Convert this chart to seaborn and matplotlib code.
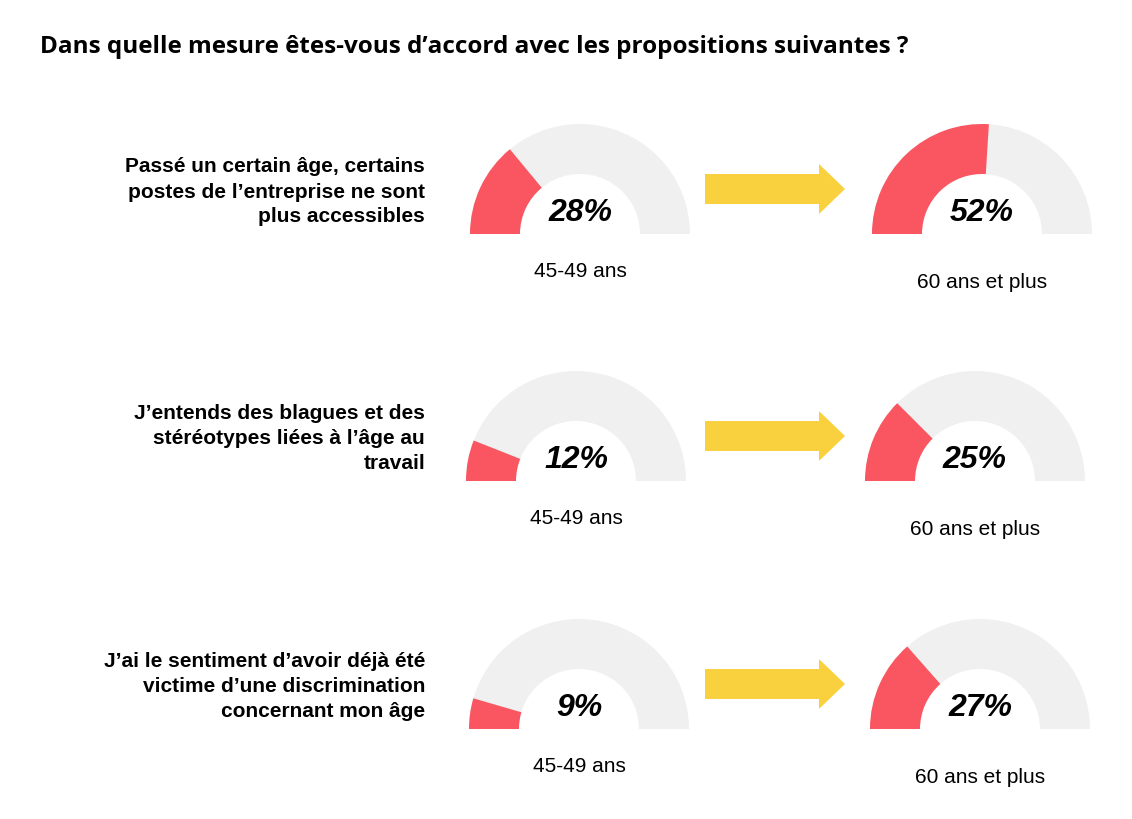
import matplotlib
matplotlib.use("Agg")
import matplotlib.pyplot as plt
from matplotlib.patches import Wedge, FancyArrow
import seaborn as sns

sns.set_theme(style="white")
plt.rcParams['font.family'] = ['Open Sans', 'DejaVu Sans']
plt.rcParams['text.color'] = 'black'

title = "Dans quelle mesure êtes-vous d’accord avec les propositions suivantes ?"
questions = [
    "Passé un certain âge, certains\npostes de l’entreprise ne sont\nplus accessibles",
    "J’entends des blagues et des\nstéréotypes liées à l’âge au\ntravail",
    "J’ai le sentiment d’avoir déjà été\nvictime d’une discrimination\nconcernant mon âge",
]
left_vals = [28, 12, 9]
right_vals = [52, 25, 27]
left_label = "45-49 ans"
right_label = "60 ans et plus"

RED = "#FA5661"
GREY = "#F0F0F0"
YEL = "#F9D13E"

fig = plt.figure(figsize=(11.32, 8.2), dpi=100)
ax = fig.add_axes([0, 0, 1, 1])
ax.set_xlim(0, 1132)
ax.set_ylim(820, 0)
ax.axis("off")

ax.text(40, 47, title, fontsize=17.5, fontweight="bold", va="center", ha="left")

centers_y = [235, 482, 730]
left_x = [580, 576, 579]
right_x = [982, 975, 980]
R, W = 110, 50

def gauge(cx, cy, v, lab, laby):
    ax.add_patch(Wedge((cx, cy), R, 180, 360, width=W, facecolor=GREY, edgecolor="none"))
    ax.add_patch(Wedge((cx, cy), R, 180, 180 + v / 100 * 180, width=W,
                       facecolor=RED, edgecolor="none"))
    ax.text(cx, cy - 22, f"{v}%", fontsize=23, fontweight="heavy", fontstyle="italic",
            ha="center", va="center", family=['Liberation Sans', 'DejaVu Sans'])
    ax.text(cx, cy + laby, lab, fontsize=15, ha="center", va="center",
            family=['Liberation Sans', 'DejaVu Sans'])

for i, q in enumerate(questions):
    cy = centers_y[i]
    ax.text(425, cy - 43, q, fontsize=15, fontweight="bold", ha="right", va="center",
            linespacing=1.4, family=['Liberation Sans', 'DejaVu Sans'])
    gauge(left_x[i], cy, left_vals[i], left_label, 37)
    gauge(right_x[i], cy, right_vals[i], right_label, 48)
    ay = cy - 45
    ax.add_patch(FancyArrow(705, ay, 140, 0, width=30, head_width=50, head_length=26,
                            length_includes_head=True, facecolor=YEL, edgecolor="none"))

fig.savefig("out.png", dpi=100, facecolor="white")
